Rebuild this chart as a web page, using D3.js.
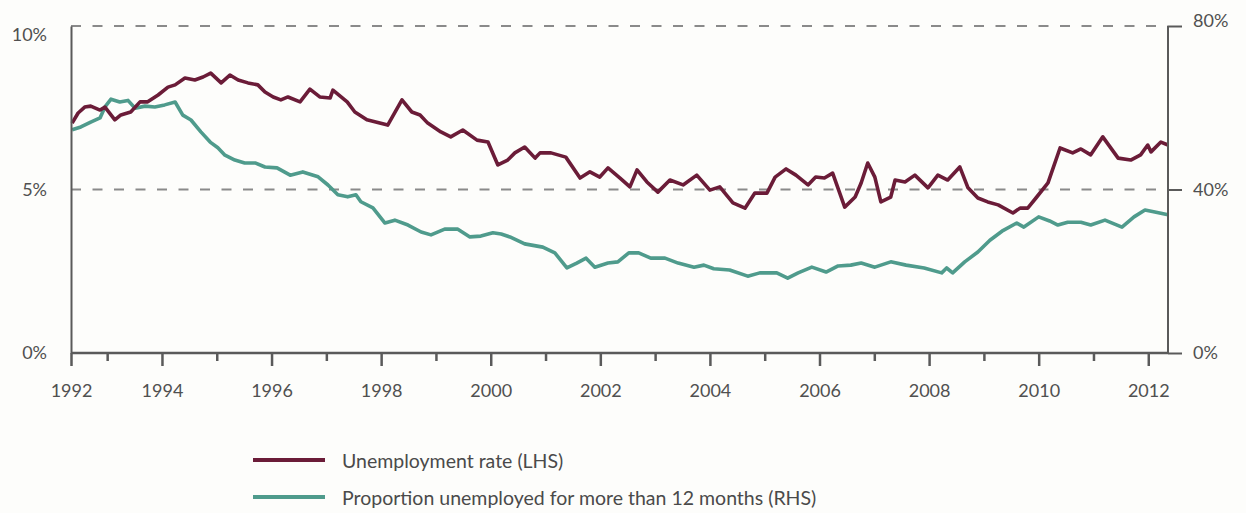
<!DOCTYPE html>
<html><head><meta charset="utf-8">
<script src="https://cdn.jsdelivr.net/npm/d3@7"></script>
<style>
html,body{margin:0;padding:0;background:#fdfdfb;}
svg{display:block;}
text{font-family:Lato,"Open Sans",sans-serif;}
</style></head>
<body><svg id="chart" width="1246" height="513"></svg>
<script>
// ---- data (decimal years) ----
const unempDates = [1992.36,1992.47,1992.59,1992.70,1992.87,1992.96,1993.14,1993.25,1993.43,1993.60,1993.74,1993.93,1994.11,1994.24,1994.42,1994.60,1994.75,1994.89,1995.08,1995.24,1995.39,1995.57,1995.75,1995.88,1996.03,1996.17,1996.30,1996.52,1996.70,1996.88,1997.07,1997.12,1997.38,1997.52,1997.74,1997.92,1998.12,1998.38,1998.56,1998.71,1998.85,1999.09,1999.27,1999.49,1999.75,1999.95,2000.13,2000.31,2000.44,2000.62,2000.81,2000.90,2001.10,2001.37,2001.63,2001.81,2001.99,2002.14,2002.36,2002.54,2002.67,2002.85,2003.05,2003.27,2003.51,2003.76,2004.00,2004.18,2004.42,2004.64,2004.82,2005.04,2005.19,2005.39,2005.57,2005.79,2005.93,2006.09,2006.24,2006.46,2006.65,2006.76,2006.88,2007.01,2007.12,2007.30,2007.38,2007.56,2007.74,2007.98,2008.16,2008.34,2008.56,2008.71,2008.89,2009.07,2009.26,2009.53,2009.66,2009.80,2009.95,2010.17,2010.39,2010.62,2010.77,2010.95,2011.17,2011.45,2011.68,2011.86,2011.99,2012.05,2012.23,2012.36];
const unempRate = [7.03,7.34,7.52,7.55,7.43,7.52,7.13,7.28,7.37,7.68,7.68,7.89,8.13,8.20,8.41,8.35,8.44,8.56,8.26,8.50,8.35,8.26,8.20,7.98,7.83,7.74,7.83,7.68,8.07,7.83,7.80,8.04,7.68,7.37,7.13,7.06,6.97,7.74,7.37,7.28,7.03,6.76,6.61,6.82,6.51,6.45,5.75,5.90,6.12,6.30,5.96,6.12,6.12,5.99,5.35,5.54,5.38,5.66,5.35,5.08,5.60,5.23,4.92,5.29,5.14,5.44,4.98,5.08,4.59,4.43,4.89,4.89,5.38,5.63,5.44,5.14,5.38,5.35,5.50,4.46,4.77,5.20,5.81,5.38,4.62,4.77,5.29,5.23,5.44,5.05,5.44,5.29,5.69,5.05,4.74,4.62,4.53,4.28,4.43,4.43,4.74,5.20,6.27,6.12,6.24,6.06,6.61,5.96,5.90,6.06,6.36,6.15,6.45,6.36];

const ltuDates = [1992.36,1992.52,1992.70,1992.87,1992.96,1993.07,1993.23,1993.38,1993.51,1993.69,1993.87,1994.05,1994.24,1994.38,1994.53,1994.71,1994.88,1995.02,1995.15,1995.33,1995.51,1995.70,1995.88,1996.10,1996.34,1996.57,1996.85,1997.03,1997.21,1997.39,1997.54,1997.63,1997.85,1998.07,1998.25,1998.49,1998.73,1998.91,1999.16,1999.40,1999.62,1999.82,2000.04,2000.19,2000.35,2000.62,2000.95,2001.17,2001.39,2001.57,2001.74,2001.90,2002.14,2002.32,2002.52,2002.70,2002.92,2003.18,2003.42,2003.71,2003.89,2004.07,2004.36,2004.69,2004.91,2005.22,2005.42,2005.61,2005.86,2006.12,2006.34,2006.57,2006.76,2007.01,2007.30,2007.58,2007.91,2008.23,2008.32,2008.43,2008.65,2008.89,2009.11,2009.33,2009.60,2009.73,2010.00,2010.20,2010.35,2010.53,2010.77,2010.95,2011.21,2011.52,2011.74,2011.94,2012.12,2012.36];
const ltuShare = [54.6,55.3,56.5,57.5,60.2,62.1,61.4,61.8,59.9,60.4,60.2,60.7,61.4,58.2,57.0,54.1,51.6,50.2,48.4,47.2,46.5,46.5,45.5,45.3,43.5,44.3,43.1,41.1,38.7,38.2,38.7,37.0,35.5,31.8,32.5,31.3,29.6,28.9,30.3,30.3,28.4,28.6,29.4,29.1,28.4,26.7,25.9,24.5,20.8,22.0,23.2,21.0,22.0,22.3,24.5,24.5,23.2,23.2,22.0,21.0,21.5,20.6,20.3,18.8,19.6,19.6,18.3,19.6,21.0,19.8,21.3,21.5,22.0,21.0,22.3,21.5,20.8,19.6,20.8,19.6,22.3,24.7,27.6,29.8,31.8,30.8,33.3,32.3,31.3,32.0,32.0,31.3,32.5,30.8,33.3,35.0,34.5,33.8];

const xStart = 1992.34, xEnd = 2012.36;
const majorYears = [1994,1996,1998,2000,2002,2004,2006,2008,2010,2012];
const minorYears = [1993,1995,1997,1999,2001,2003,2005,2007,2009,2011];
const firstLabel = "1992";
const leftTicks = [0,5,10];
const rightTicks = [0,40,80];
const seriesNames = ["Unemployment rate (LHS)","Proportion unemployed for more than 12 months (RHS)"];
const colors = ["#6b1c38","#4f9b8c"];

// ---- layout ----
const svg = d3.select("#chart");
const L = 71, R = 1168, T = 26, B = 353;
const x = d3.scaleLinear().domain([xStart,xEnd]).range([L,R]);
const yL = d3.scaleLinear().domain([0,10]).range([B,T]);
const yR = d3.scaleLinear().domain([0,80]).range([B,T]);
const axisCol = "#5a5a5a", textCol = "#505050";
const fs = 18;

// gridlines (dashed) at 5% and 10%
svg.append("g").selectAll("line").data(leftTicks.filter(d=>d>0)).join("line")
  .attr("x1",L).attr("x2",R).attr("y1",d=>yL(d)).attr("y2",d=>yL(d))
  .attr("stroke","#8a8a8a").attr("stroke-width",1.8).attr("stroke-dasharray","10,11.5");

// lines
const lineU = d3.line().x((d,i)=>x(unempDates[i])).y(d=>yL(d));
const lineP = d3.line().x((d,i)=>x(ltuDates[i])).y(d=>yR(d));
svg.append("path").datum(ltuShare).attr("d",lineP).attr("fill","none")
  .attr("stroke",colors[1]).attr("stroke-width",3.6).attr("stroke-linejoin","round");
svg.append("path").datum(unempRate).attr("d",lineU).attr("fill","none")
  .attr("stroke",colors[0]).attr("stroke-width",3.6).attr("stroke-linejoin","round");

// left axis
const gL = svg.append("g").attr("transform",`translate(${L},0)`)
  .call(d3.axisLeft(yL).tickValues(leftTicks).tickSize(0).tickPadding(24).tickFormat(d=>d+"%"));
gL.select(".domain").attr("stroke",axisCol).attr("stroke-width",2);
gL.selectAll("text").attr("font-size",fs).attr("fill",textCol).attr("font-family","Lato")
  .attr("dy",d=>d===10?"0.8em":"0.32em");

// right axis
const gR = svg.append("g").attr("transform",`translate(${R},0)`)
  .call(d3.axisRight(yR).tickValues(rightTicks).tickSize(14).tickPadding(11).tickFormat(d=>d+"%"));
gR.select(".domain").attr("stroke",axisCol).attr("stroke-width",2).attr("d",`M0,${T}V${B}`);
gR.selectAll(".tick line").attr("stroke",axisCol).attr("stroke-width",2);
gR.selectAll("text").attr("font-size",fs).attr("fill",textCol).attr("font-family","Lato")
  .attr("dy",d=>d===80?"0.05em":"0.32em");

// bottom axis
const gB = svg.append("g").attr("transform",`translate(0,${B})`)
  .call(d3.axisBottom(x).tickValues([xStart].concat(majorYears)).tickSize(13).tickPadding(18)
    .tickFormat(d=>d===xStart?firstLabel:String(d)));
gB.select(".domain").attr("stroke",axisCol).attr("stroke-width",2.5).attr("d",`M${L},0H${R}`);
gB.selectAll(".tick line").attr("stroke",axisCol).attr("stroke-width",2.5);
gB.selectAll("text").attr("font-size",fs).attr("fill",textCol).attr("font-family","Lato");
const gBm = svg.append("g").attr("transform",`translate(0,${B})`)
  .call(d3.axisBottom(x).tickValues(minorYears).tickSize(8).tickFormat(""));
gBm.select(".domain").remove();
gBm.selectAll(".tick line").attr("stroke",axisCol).attr("stroke-width",2.5);

// legend
const leg = svg.append("g").attr("transform","translate(253,460)");
seriesNames.forEach((name,i)=>{
  const g = leg.append("g").attr("transform",`translate(0,${i*37})`);
  g.append("line").attr("x1",0).attr("x2",72).attr("y1",0).attr("y2",0)
    .attr("stroke",colors[i]).attr("stroke-width",4);
  g.append("text").attr("x",89).attr("y",0).attr("dy","0.4em")
    .attr("font-size",19.5).attr("fill","#4a4a4a").attr("font-family","Lato").text(name);
});
</script></body></html>
